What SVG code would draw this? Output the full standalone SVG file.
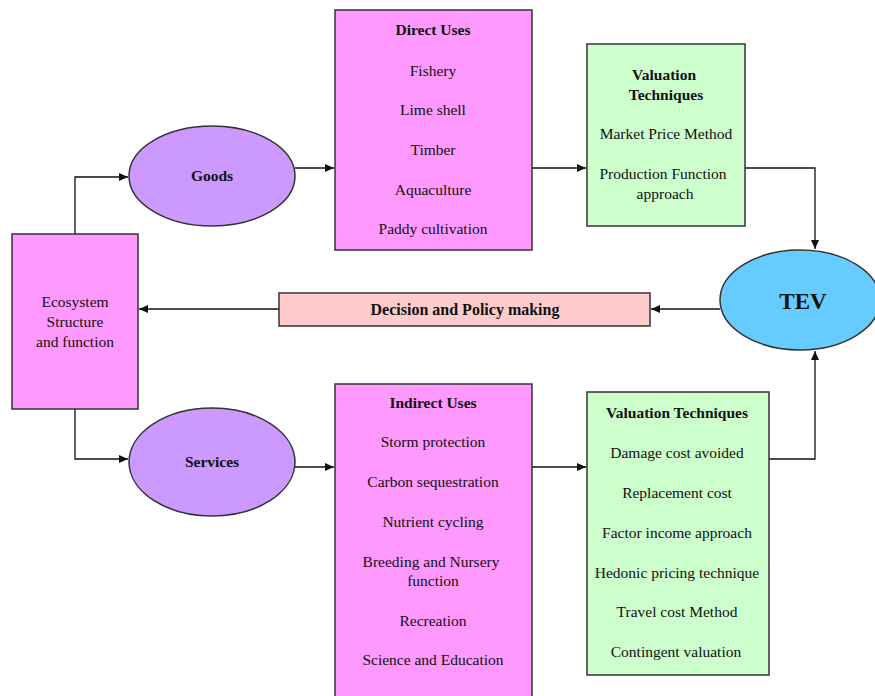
<svg xmlns="http://www.w3.org/2000/svg" width="875" height="696" viewBox="0 0 875 696">
<style>
text{font-family:"Liberation Serif","Times New Roman",serif;font-size:15.5px;fill:#111;text-anchor:middle}
.b{font-weight:bold}
.box{stroke:#333;stroke-width:1.5}
.pink{fill:#FF99FF}
.purple{fill:#CC99FF}
.green{fill:#CCFFCC}
.rose{fill:#FFCCCC}
.blue{fill:#66CCFF}
.c{fill:none;stroke:#111;stroke-width:1.3}
</style>
<defs>
<marker id="ah" markerWidth="10" markerHeight="8" refX="9" refY="4" orient="auto" markerUnits="userSpaceOnUse">
<path d="M0,0 L9,4 L0,8 z" fill="#111"/>
</marker>
</defs>
<rect width="875" height="696" fill="#fff"/>

<g id="connectors">
<polyline class="c" points="75,234 75,177 128,177" marker-end="url(#ah)"/>
<polyline class="c" points="75,409 75,459 128,459" marker-end="url(#ah)"/>
<line class="c" x1="295" y1="168" x2="334" y2="168" marker-end="url(#ah)"/>
<line class="c" x1="532" y1="168" x2="586" y2="168" marker-end="url(#ah)"/>
<polyline class="c" points="745,168 815,168 815,249" marker-end="url(#ah)"/>
<line class="c" x1="720" y1="309" x2="651" y2="309" marker-end="url(#ah)"/>
<line class="c" x1="279" y1="309" x2="139" y2="309" marker-end="url(#ah)"/>
<line class="c" x1="295" y1="467" x2="334" y2="467" marker-end="url(#ah)"/>
<line class="c" x1="532" y1="467" x2="586" y2="467" marker-end="url(#ah)"/>
<polyline class="c" points="769,459 815,459 815,351" marker-end="url(#ah)"/>
</g>

<g id="ecosystem">
<rect class="box pink" x="12" y="234" width="126" height="175"/>
<text x="75" y="307">Ecosystem</text>
<text x="75" y="327">Structure</text>
<text x="75" y="347">and function</text>
</g>

<g id="goods">
<ellipse class="box purple" cx="212" cy="176" rx="83" ry="50"/>
<text class="b" x="212" y="181">Goods</text>
</g>

<g id="services">
<ellipse class="box purple" cx="212" cy="462" rx="83" ry="54"/>
<text class="b" x="212" y="467">Services</text>
</g>

<g id="direct-uses">
<rect class="box pink" x="335" y="10" width="197" height="240"/>
<text class="b" x="433" y="35">Direct Uses</text>
<text x="433" y="76">Fishery</text>
<text x="433" y="115">Lime shell</text>
<text x="433" y="155">Timber</text>
<text x="433" y="195">Aquaculture</text>
<text x="433" y="234">Paddy cultivation</text>
</g>

<g id="valuation-goods">
<rect class="box green" x="587" y="44" width="158" height="182"/>
<text class="b" x="664" y="80">Valuation</text>
<text class="b" x="666" y="100">Techniques</text>
<text x="666" y="139">Market Price Method</text>
<text x="663" y="179">Production Function</text>
<text x="665" y="199">approach</text>
</g>

<g id="tev">
<ellipse class="box blue" cx="800" cy="300" rx="80" ry="50"/>
<text class="b" x="803" y="309" style="font-size:23px">TEV</text>
</g>

<g id="decision">
<rect class="box rose" x="279" y="293" width="371" height="33"/>
<text class="b" x="465" y="315" style="font-size:16px">Decision and Policy making</text>
</g>

<g id="indirect-uses">
<rect class="box pink" x="335" y="384" width="197" height="320"/>
<text class="b" x="433" y="408">Indirect Uses</text>
<text x="433" y="447">Storm protection</text>
<text x="433" y="487">Carbon sequestration</text>
<text x="433" y="527">Nutrient cycling</text>
<text x="431" y="567">Breeding and Nursery</text>
<text x="433" y="586">function</text>
<text x="433" y="626">Recreation</text>
<text x="433" y="665">Science and Education</text>
</g>

<g id="valuation-services">
<rect class="box green" x="587" y="392" width="182" height="283"/>
<text class="b" x="677" y="418">Valuation Techniques</text>
<text x="677" y="458">Damage cost avoided</text>
<text x="677" y="498">Replacement cost</text>
<text x="677" y="538">Factor income approach</text>
<text x="677" y="578">Hedonic pricing technique</text>
<text x="677" y="617">Travel cost Method</text>
<text x="676" y="657">Contingent valuation</text>
</g>
</svg>
